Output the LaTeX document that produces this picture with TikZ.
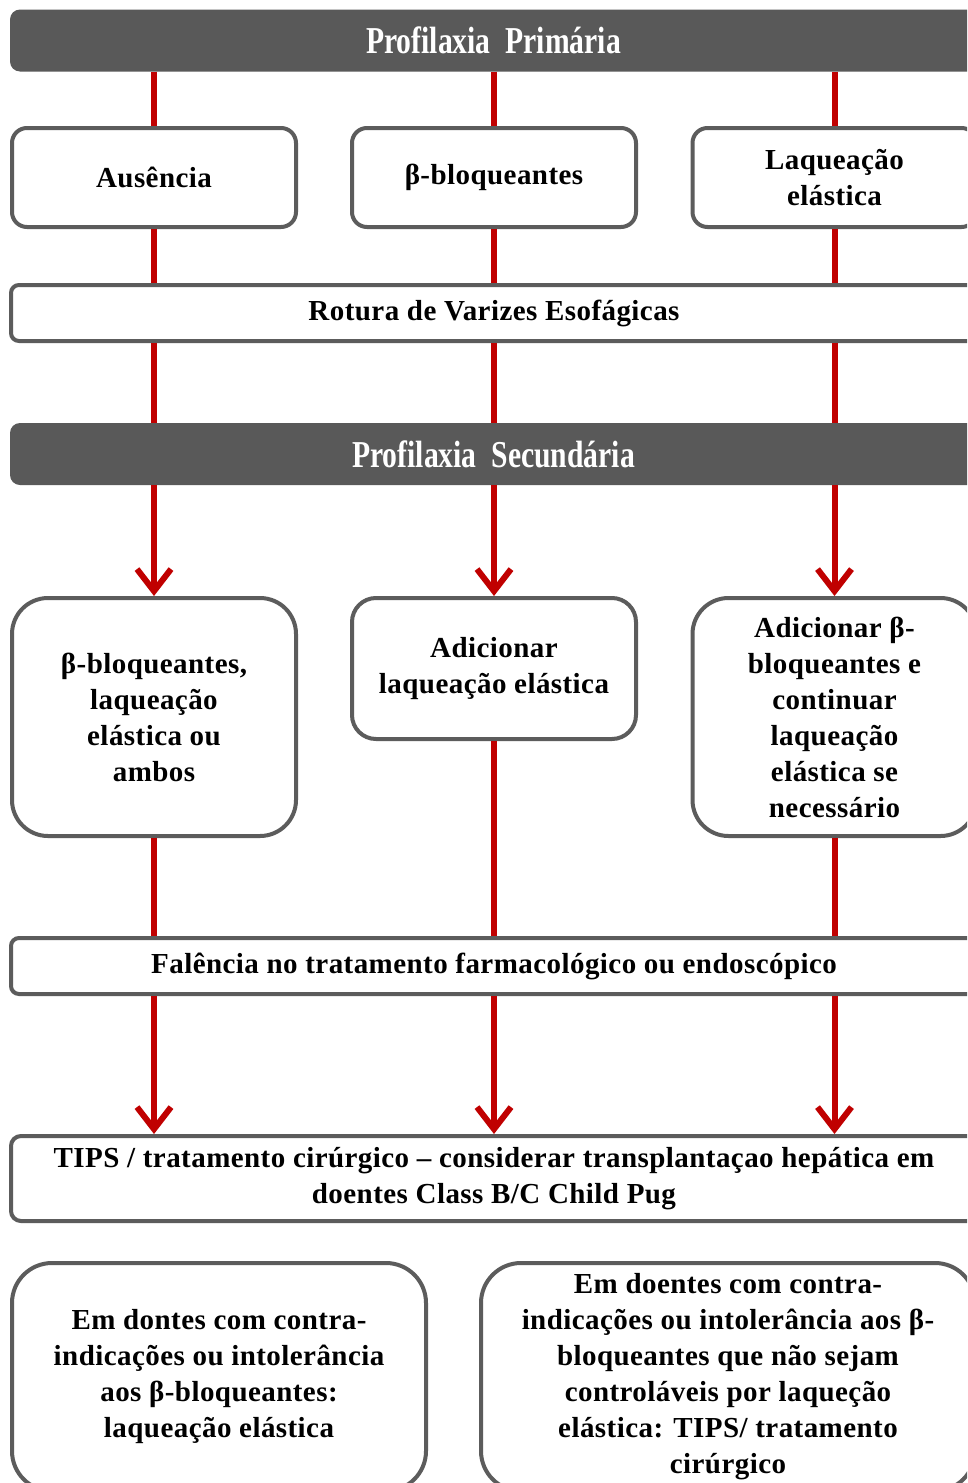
\documentclass[tikz,border=0pt]{standalone}
\usepackage{fontspec}
\usepackage{graphicx}
\setmainfont{Liberation Serif}
\newfontfamily\spacedserif[LetterSpace=1.5]{Liberation Serif}
\usetikzlibrary{arrows.meta}
\definecolor{hdr}{HTML}{595959}
\definecolor{bord}{HTML}{5C5C5C}
\definecolor{rd}{HTML}{C00000}
\tikzset{
  hdrbox/.style={fill=hdr, draw=none, rounded corners=10pt, text=white,
    font=\bfseries\fontsize{38}{40}\selectfont, minimum height=62pt, minimum width=967pt, inner sep=0pt},
  box/.style={draw=bord, line width=4pt, fill=white, align=center,
    font=\spacedserif\bfseries\fontsize{29}{36}\selectfont, inner sep=0pt},
  smallr/.style={box, rounded corners=15pt},
  bigr/.style={box, rounded corners=36pt},
  barbox/.style={box, rounded corners=8pt, minimum width=966pt, minimum height=56pt},
  link/.style={draw=rd, line width=6pt},
  arr/.style={link, -{Straight Barb[length=22pt,width=34pt]}}
}
\newcommand{\hdrtext}[1]{\scalebox{0.78}[1]{#1}}
\begin{document}
\begin{tikzpicture}[x=1pt,y=-1pt]
\clip (0,0) rectangle (967,1483);
\fill[white] (0,0) rectangle (967,1483);

% primary prophylaxis
\node[hdrbox] (h1) at (493.5,40.5) {\hdrtext{Profilaxia\ \ Primária}};
\node[smallr, minimum width=284pt, minimum height=99pt] (b1) at (154,177.5) {Ausência};
\node[smallr, minimum width=284pt, minimum height=99pt] (b2) at (494,177.5) {β-bloqueantes};
\node[smallr, minimum width=284pt, minimum height=99pt] (b3) at (834.5,177.5) {Laqueação\\elástica};
\node[barbox] (bar1) at (494,313) {Rotura de Varizes Esofágicas};

% secondary prophylaxis
\node[hdrbox] (h2) at (493.5,454) {\hdrtext{Profilaxia\ \ Secundária}};
\node[bigr, minimum width=284pt, minimum height=238pt] (r1) at (154,717) {β-bloqueantes,\\laqueação\\elástica ou\\ambos};
\node[bigr, rounded corners=24pt, minimum width=284pt, minimum height=141pt] (r2) at (494,668.5) {Adicionar\\laqueação elástica};
\node[bigr, minimum width=284pt, minimum height=238pt] (r3) at (834.5,717) {Adicionar β-\\bloqueantes e\\continuar\\laqueação\\elástica se\\necessário};
\node[barbox] (bar2) at (494,966) {Falência no tratamento farmacológico ou endoscópico};
\node[box, rounded corners=10pt, minimum width=966pt, minimum height=85pt] (tips) at (494,1178.5) {TIPS / tratamento cirúrgico – considerar transplantaçao hepática em\\doentes Class B/C Child Pug};

% bottom notes
\node[bigr, rounded corners=40pt, minimum width=414pt, minimum height=228pt] (nl) at (219,1377) {Em dontes com contra-\\indicações ou intolerância\\aos β-bloqueantes:\\laqueação elástica};
\node[bigr, rounded corners=40pt, minimum width=494pt, minimum height=228pt] (nr) at (728,1377) {Em doentes com contra-\\indicações ou intolerância aos β-\\bloqueantes que não sejam\\controláveis por laqueção\\elástica: TIPS/ tratamento\\cirúrgico};

% connectors
\foreach \b in {b1,b2,b3}{
  \draw[link] (h1.south -| \b.north) -- (\b.north);
  \draw[link] (\b.south) -- (\b.south |- bar1.north);
  \draw[link] (bar1.south -| \b.north) -- (h2.north -| \b.north);
}
\foreach \r in {r1,r2,r3}{
  \draw[arr] (h2.south -| \r.north) -- (\r.north);
  \draw[link] (\r.south) -- (\r.south |- bar2.north);
  \draw[arr] (bar2.south -| \r.north) -- (\r.north |- tips.north);
}
\end{tikzpicture}
\end{document}
